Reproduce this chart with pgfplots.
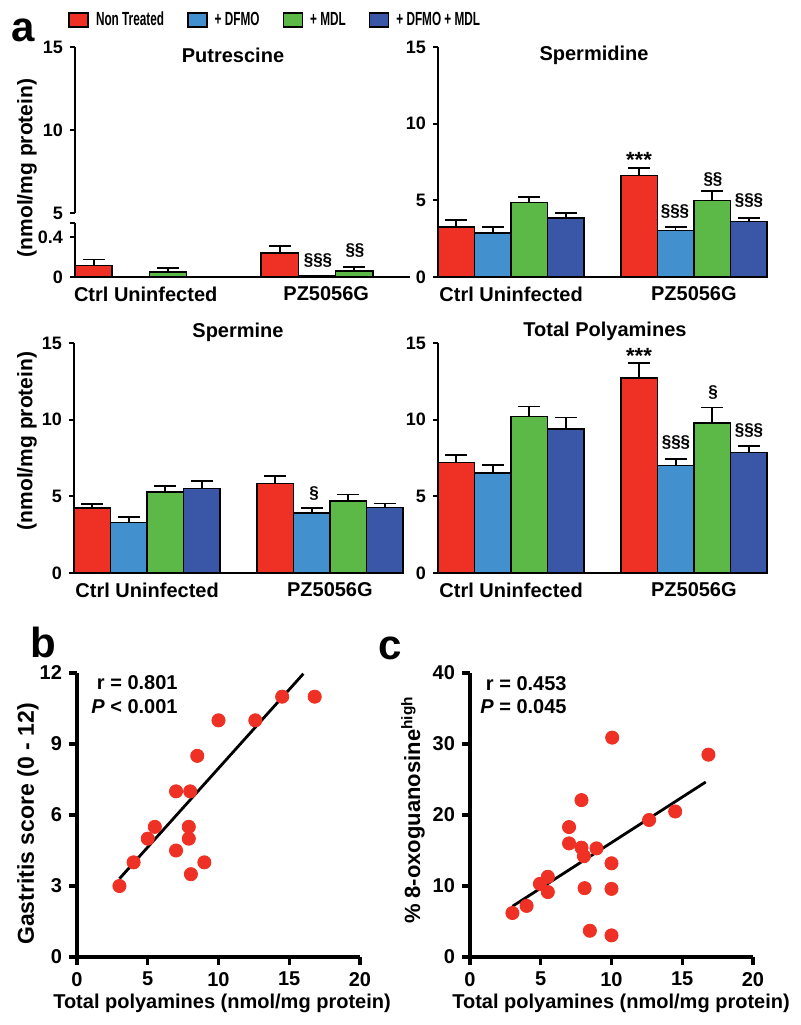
\documentclass[border=0pt]{standalone}
\usepackage{pgfplots}
\pgfplotsset{compat=1.18}
\usepackage{fontspec}
\setmainfont{Liberation Sans}
\newfontfamily\condfont{Liberation Sans}[FakeStretch=0.62]
\newcommand{\fs}[1]{\fontsize{#1}{#1}\selectfont}

\definecolor{cred}{HTML}{EE3124}
\definecolor{cblue}{HTML}{4390CF}
\definecolor{cgreen}{HTML}{5DB947}
\definecolor{cdark}{HTML}{3A56A6}

\pgfplotsset{
  abar/.style={ybar, bar width=1, bar shift=0pt, draw=black, line width=0.8pt, fill=#1,
    legend image code/.code={\draw[fill=#1, draw=black, line width=0.8pt] (0pt,-3.5pt) rectangle (9.5pt,3.5pt);},
    error bars/.cd, y dir=plus, y explicit,
    error bar style={black, line width=0.9pt},
    error mark options={rotate=90, black, line width=0.9pt, mark size=5.5pt}},
  panela/.style={scale only axis, width=164.5pt, height=115pt,
    xmin=0, xmax=9, ymin=0, ymax=15, ytick={0,5,10,15},
    axis x line=bottom, axis y line=left, axis line style={-, line width=1pt},
    tick style={black, line width=1pt}, major tick length=2.5pt, tick align=outside,
    xtick={2,7}, xticklabels={Ctrl Uninfected, PZ5056G}, xtick style={draw=none},
    yticklabel style={font=\bfseries\fs{9}},
    xticklabel style={font=\bfseries\fs{10}, yshift=1.2pt},
    /pgf/number format/assume math mode=true, clip=false, anchor=south west},
  panelbc/.style={scale only axis, width=141.5pt, height=142pt, xmin=0, xmax=20,
    xtick={0,5,10,15,20}, axis x line=bottom, axis y line=left,
    axis line style={-, line width=1.7pt}, tick style={black, line width=1.7pt},
    major tick length=4pt, tick align=outside,
    ticklabel style={font=\bfseries\fs{10}},
    /pgf/number format/assume math mode=true, clip=false, anchor=south west},
}

\begin{document}
\begin{tikzpicture}
\begin{scope}[x=0.5pt, y=-0.5pt]
\path[use as bounding box] (0,0) rectangle (800,1025);
\coordinate (PL) at (75,277);
\coordinate (PU) at (75,213);
\coordinate (SD) at (438,277);
\coordinate (SM) at (74,573);
\coordinate (TP) at (438,573);
\coordinate (B) at (77,957);
\coordinate (C) at (470,957);
\end{scope}

% Putrescine, lower part of the broken axis
\begin{axis}[panela, at={(PL)}, width=167.5pt, height=27pt, ymax=0.54,
  ytick={0,0.4}, extra y ticks={0.54}, extra y tick labels={}, xtick={1.9,6.75}]
\addplot[abar=cred] coordinates {(0.5,0.115) +- (0,0.06) (5.5,0.243) +- (0,0.067)};
\addplot[abar=cblue] coordinates {(6.5,0.008) +- (0,0.004)};
\addplot[abar=cgreen] coordinates {(2.5,0.053) +- (0,0.037) (7.5,0.063) +- (0,0.037)};
\end{axis}
% Putrescine, upper part
\begin{axis}[panela, at={(PU)}, width=167.5pt, height=83pt, ymin=5, ymax=15,
  ytick={5,10,15}, axis x line=none]
\end{axis}

% Spermidine
\begin{axis}[panela, at={(SD)},
  legend style={at={(axis description cs:-1.1246,1.1174)}, anchor=west, draw=none, fill=none,
    inner sep=0pt, legend columns=4, font=\condfont\bfseries\fs{9.5},
    nodes={inner xsep=3.5pt, inner ysep=0pt},
    /tikz/every even column/.append style={column sep=8pt}}]
\addplot[abar=cred] coordinates {(0.5,3.26) +- (0,0.48) (5.5,6.61) +- (0,0.52)};
\addlegendentry{Non Treated}
\addplot[abar=cblue] coordinates {(1.5,2.87) +- (0,0.39) (6.5,3.04) +- (0,0.24)};
\addlegendentry{+ DFMO}
\addplot[abar=cgreen] coordinates {(2.5,4.87) +- (0,0.35) (7.5,5.00) +- (0,0.59)};
\addlegendentry{+ MDL}
\addplot[abar=cdark] coordinates {(3.5,3.85) +- (0,0.32) (8.5,3.61) +- (0,0.26)};
\addlegendentry{+ DFMO + MDL}
\end{axis}

% Spermine
\begin{axis}[panela, at={(SM)}]
\addplot[abar=cred] coordinates {(0.5,4.25) +- (0,0.24) (5.5,5.84) +- (0,0.50)};
\addplot[abar=cblue] coordinates {(1.5,3.29) +- (0,0.35) (6.5,3.92) +- (0,0.31)};
\addplot[abar=cgreen] coordinates {(2.5,5.28) +- (0,0.41) (7.5,4.69) +- (0,0.43)};
\addplot[abar=cdark] coordinates {(3.5,5.52) +- (0,0.50) (8.5,4.27) +- (0,0.26)};
\end{axis}

% Total polyamines
\begin{axis}[panela, at={(TP)}]
\addplot[abar=cred] coordinates {(0.5,7.22) +- (0,0.48) (5.5,12.71) +- (0,0.98)};
\addplot[abar=cblue] coordinates {(1.5,6.54) +- (0,0.48) (6.5,7.00) +- (0,0.41)};
\addplot[abar=cgreen] coordinates {(2.5,10.20) +- (0,0.66) (7.5,9.77) +- (0,1.02)};
\addplot[abar=cdark] coordinates {(3.5,9.40) +- (0,0.74) (8.5,7.87) +- (0,0.41)};
\end{axis}

% b: gastritis score
\begin{axis}[panelbc, at={(B)}, ymin=0, ymax=12, ytick={0,3,6,9,12}]
\addplot[only marks, mark=*, mark size=3.3pt, cred] coordinates {
  (3,3) (4,4) (5,5) (5.5,5.5) (7,7) (7,4.5) (8,7) (7.9,5.5)
  (7.9,5) (8.05,3.5) (8.5,8.5) (9,4) (10,10) (12.6,10) (14.5,11) (16.8,11)};
\addplot[black, line width=1.4pt] coordinates {(3,3.31) (16,11.97)};
\end{axis}

% c: 8-oxoguanosine
\begin{axis}[panelbc, at={(C)}, ymin=0, ymax=40, ytick={0,10,20,30,40}]
\addplot[only marks, mark=*, mark size=3.3pt, cred] coordinates {
  (3,6.2) (4,7.2) (4.94,10.3) (5.5,11.3) (5.5,9.15) (7,18.3) (7,16)
  (7.88,22.1) (7.88,15.4) (8.05,14.2) (8.1,9.7) (8.47,3.7) (8.94,15.3)
  (10.05,30.9) (10,13.2) (10,9.6) (10,3.05) (12.66,19.3) (14.5,20.5) (16.85,28.5)};
\addplot[black, line width=1.4pt] coordinates {(3,7.14) (16.66,24.65)};
\end{axis}

\begin{scope}[x=0.5pt, y=-0.5pt, every node/.style={inner sep=0pt}]
% panel letters
\node[font=\bfseries\fs{21}] at (23.5,30.5) {a};
\node[font=\bfseries\fs{21}] at (43.5,642) {b};
\node[font=\bfseries\fs{21}] at (390,648) {c};
% titles
\node[font=\bfseries\fs{10}] at (233,55) {Putrescine};
\node[font=\bfseries\fs{10}] at (594,55) {Spermidine};
\node[font=\bfseries\fs{10}] at (238,332) {Spermine};
\node[font=\bfseries\fs{10}] at (605,331) {Total Polyamines};
% axis labels
\node[rotate=90, font=\bfseries\fs{10.5}] at (27,168) {(nmol/mg protein)};
\node[rotate=90, font=\bfseries\fs{10.5}] at (27,441) {(nmol/mg protein)};
\node[rotate=90, font=\bfseries\fs{11.5}] at (28,824) {Gastritis score (0 - 12)};
\node[rotate=90, font=\bfseries\fs{11}] at (413,810) {\% 8-oxoguanosine\textsuperscript{high}};
\node[font=\bfseries\fs{10}] at (222,1003) {Total polyamines (nmol/mg protein)};
\node[font=\bfseries\fs{10}] at (621,1003) {Total polyamines (nmol/mg protein)};
% statistics
\node[anchor=east, font=\bfseries\fs{10}] at (178,683) {r = 0.801};
\node[anchor=east, font=\bfseries\fs{10}] at (178,707) {\textit{P} < 0.001};
\node[anchor=east, font=\bfseries\fs{10}] at (567,684) {r = 0.453};
\node[anchor=east, font=\bfseries\fs{10}] at (567,707) {\textit{P} = 0.045};
% significance marks
\node[font=\bfseries\fs{8.5}] at (318,261) {§§§};
\node[font=\bfseries\fs{8.5}] at (355,251) {§§};
\node[font=\bfseries\fs{11}] at (639,160) {***};
\node[font=\bfseries\fs{8.5}] at (675,212) {§§§};
\node[font=\bfseries\fs{8.5}] at (713,180) {§§};
\node[font=\bfseries\fs{8.5}] at (749,201) {§§§};
\node[font=\bfseries\fs{8.5}] at (314,494) {§};
\node[font=\bfseries\fs{11}] at (639,356) {***};
\node[font=\bfseries\fs{8.5}] at (676,443) {§§§};
\node[font=\bfseries\fs{8.5}] at (713,393) {§};
\node[font=\bfseries\fs{8.5}] at (749,431) {§§§};
\end{scope}
\end{tikzpicture}
\end{document}
